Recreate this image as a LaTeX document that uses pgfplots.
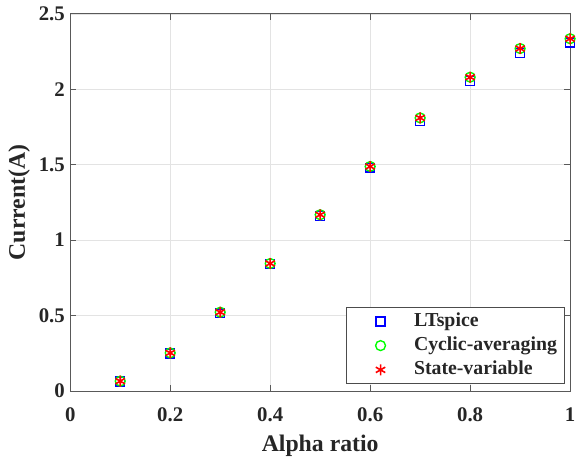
\documentclass[border=0pt]{standalone}
\usepackage{pgfplots}
\pgfplotsset{compat=1.18}
\usepackage{fontspec}
\setmainfont{Liberation Serif}
\begin{document}
\begin{tikzpicture}
\begin{axis}[
  scale only axis,
  width=505pt, height=381pt,
  xmin=0, xmax=1, ymin=0, ymax=2.5,
  xtick={0,0.2,...,1}, ytick={0,0.5,...,2.5},
  xticklabels={0,0.2,0.4,0.6,0.8,1},
  yticklabels={0,0.5,1,1.5,2,2.5},
  tick align=inside,
  major tick length=6pt,
  axis line style={draw=black!65, line width=0.9pt},
  tick style={draw=black!65, line width=0.8pt},
  grid=major,
  grid style={draw=black!11, line width=0.6pt},
  ticklabel style={font=\fontsize{21}{23}\selectfont\bfseries, text=black!85},
  xticklabel style={yshift=-13pt},
  yticklabel style={xshift=-2pt},
  xlabel={Alpha ratio}, ylabel={Current(A)},
  label style={font=\fontsize{24}{26}\selectfont\bfseries, text=black!85},
  xlabel style={at={(axis description cs:0.5,-0.160)}, anchor=base},
  ylabel style={at={(axis description cs:-0.091,0.5)}, anchor=base},
  legend style={at={(1,0)}, anchor=south east, xshift=-6pt, yshift=7pt,
    draw=black!70, line width=0.6pt,
    font=\fontsize{20}{22}\selectfont\bfseries, text=black!85,
    row sep=6.5pt, column sep=15pt,
    inner xsep=7pt, inner ysep=5pt,
    nodes={inner sep=0pt, text height=14pt, text depth=4pt}},
  legend cell align=left,
  legend image code/.code={\path (0pt,0pt) (45pt,0pt); \draw[#1] plot coordinates {(27pt,0pt)};},
]
\addplot[only marks, mark=square, mark size=4.5pt, draw=blue, line width=1.4pt] coordinates {
(0.1,0.062) (0.2,0.248) (0.3,0.515) (0.4,0.84) (0.5,1.16) (0.6,1.48) (0.7,1.79) (0.8,2.055) (0.9,2.24) (1.0,2.31)};
\addlegendentry{LTspice}
\addplot[only marks, mark=o, mark size=5pt, draw=green, line width=1.4pt] coordinates {
(0.1,0.065) (0.2,0.252) (0.3,0.522) (0.4,0.845) (0.5,1.168) (0.6,1.488) (0.7,1.81) (0.8,2.08) (0.9,2.27) (1.0,2.335)};
\addlegendentry{Cyclic-averaging}
\addplot[only marks, mark=asterisk, mark size=5.5pt, draw=red, line width=1.6pt] coordinates {
(0.1,0.065) (0.2,0.252) (0.3,0.522) (0.4,0.845) (0.5,1.168) (0.6,1.488) (0.7,1.81) (0.8,2.08) (0.9,2.27) (1.0,2.335)};
\addlegendentry{State-variable}
\end{axis}
\pgfresetboundingbox
\path[use as bounding box] ([xshift=-71pt,yshift=-66pt]current axis.south west) rectangle ([xshift=9pt,yshift=14pt]current axis.north east);
\end{tikzpicture}
\end{document}
